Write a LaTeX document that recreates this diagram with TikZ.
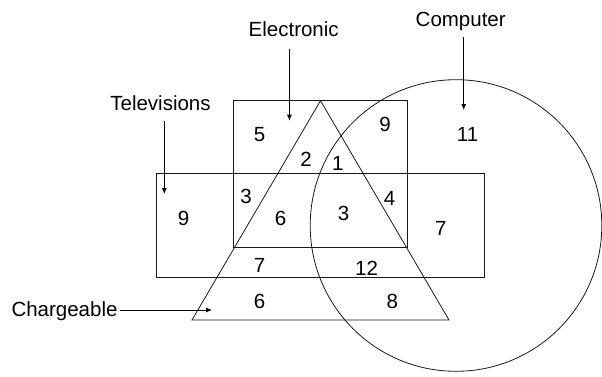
\documentclass[tikz,border=0pt]{standalone}
\usepackage{fontspec}
\setmainfont{Liberation Sans}
\usetikzlibrary{arrows.meta}
\tikzset{setline/.style={draw=black!90,line width=0.8pt}, lbl/.style={inner sep=2pt,anchor=base,font=\fontsize{20.5}{24}\selectfont}, num/.style={inner sep=0pt,font=\fontsize{20.5}{24}\selectfont}, arrow/.style={-{Latex[length=6pt,width=5pt]},line width=0.8pt}}
\begin{document}
\begin{tikzpicture}[x=1pt,y=-1pt]
\useasboundingbox (0,0) rectangle (602,376);
% the four sets
\draw[setline] (233.4,100) rectangle (407.7,247.3);
\draw[setline] (156.6,173.3) rectangle (484.4,277.7);
\draw[setline] (320.5,100.7) -- (449,320) -- (192,320) -- cycle;
\draw[setline] (456,225.5) circle[radius=145.8pt];
% labels and pointers
\node[lbl] (elec) at (293.7,36) {Electronic};
\node[lbl] (comp) at (460.7,26) {Computer};
\node[lbl] (tv) at (160.5,110) {Televisions};
\node[lbl] (charge) at (64.5,316.7) {Chargeable};
\coordinate (elecTip) at (289.4,120.7);
\coordinate (compTip) at (463.7,110);
\coordinate (tvTip) at (164.3,194);
\coordinate (chargeTip) at (212,310);
\foreach \lb/\gap in {elec/10.3pt,comp/5pt,tv/8.7pt}{\draw[arrow,shorten <=\gap] (\lb Tip |- \lb.south) -- (\lb Tip);}
\draw[arrow] (charge.east |- chargeTip) -- (chargeTip);
% region counts
\foreach \p/\v [count=\i] in {(259.5,134.3)/5,(385,124.3)/9,(467.6,134)/11,(306,159.3)/2,(337.8,163.3)/1,(246,196.7)/3,(389.6,198.3)/4,(183.5,218.3)/9,(280.6,218.3)/6,(343.6,213.3)/3,(440.7,228)/7,(259.5,265.7)/7,(366.6,268.3)/12,(259.5,301.7)/6,(392.3,301.7)/8}{\node[num] (r\i) at \p {\v};}
\end{tikzpicture}
\end{document}
